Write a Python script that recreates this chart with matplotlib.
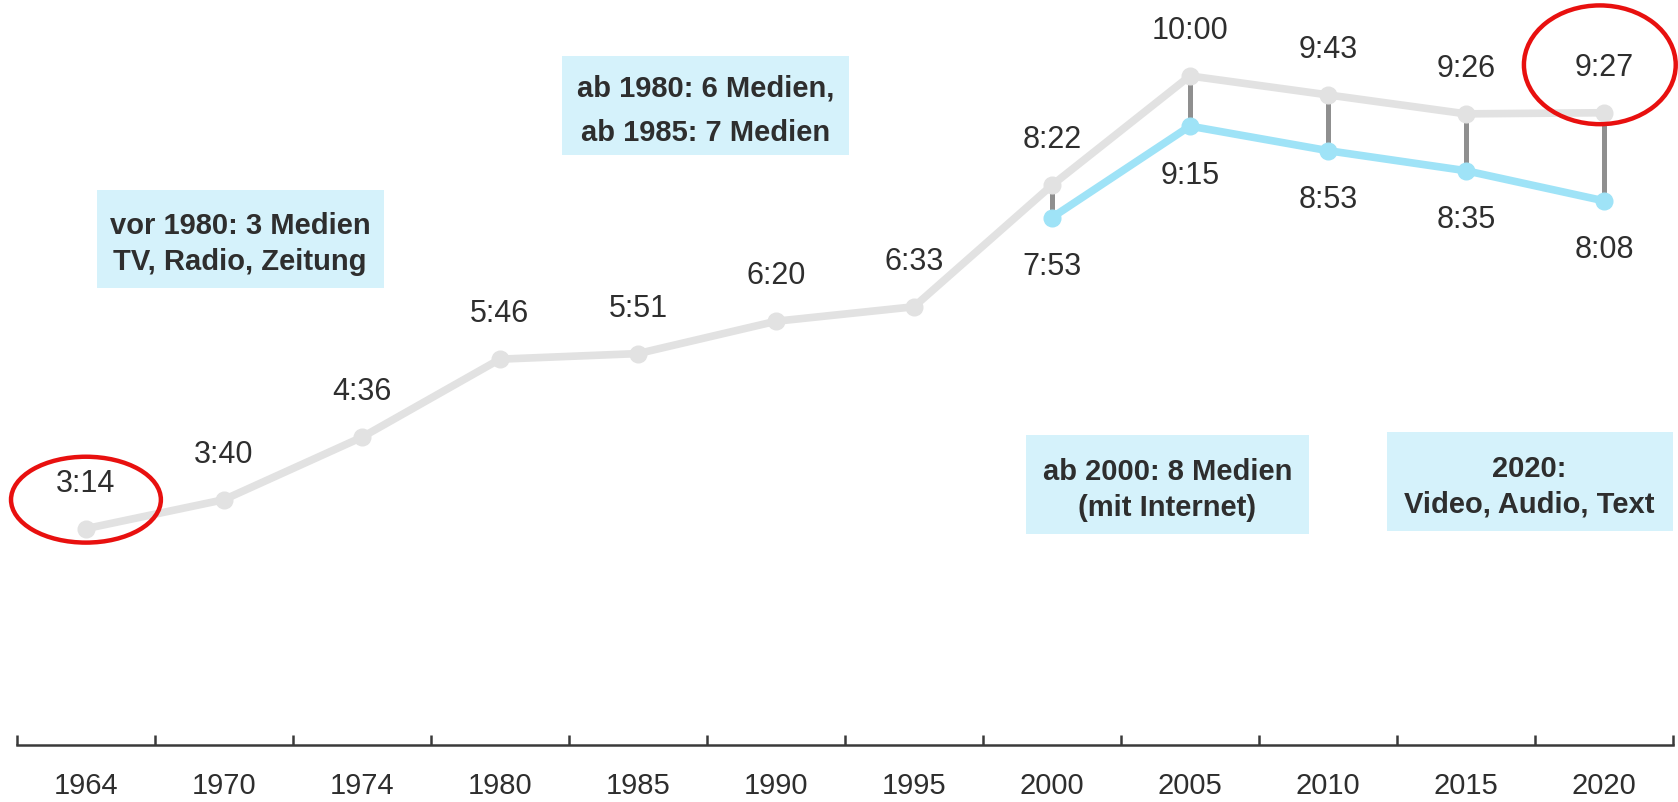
import numpy as np
import matplotlib
matplotlib.use("Agg")
import matplotlib.pyplot as plt
from matplotlib import font_manager
from matplotlib.patches import Rectangle, Ellipse

years = ['1964', '1970', '1974', '1980', '1985', '1990', '1995',
         '2000', '2005', '2010', '2015', '2020']
# Mediennutzung gesamt (h:mm)
total_labels = ['3:14', '3:40', '4:36', '5:46', '5:51', '6:20', '6:33',
                '8:22', '10:00', '9:43', '9:26', '9:27']
# ohne Internet, ab 2000
net_years = ['2000', '2005', '2010', '2015', '2020']
net_labels = ['7:53', '9:15', '8:53', '8:35', '8:08']

notes = ['vor 1980: 3 Medien\nTV, Radio, Zeitung',
         'ab 1980: 6 Medien,\nab 1985: 7 Medien',
         'ab 2000: 8 Medien\n(mit Internet)',
         '2020:\nVideo, Audio, Text']


def to_min(s):
    h, m = s.split(':')
    return int(h) * 60 + int(m)


total = np.array([to_min(s) for s in total_labels])
net = np.array([to_min(s) for s in net_labels])
x = np.arange(len(years))
xn = np.array([years.index(y) for y in net_years])

names = {f.name for f in font_manager.fontManager.ttflist}
fam = 'Liberation Sans Narrow' if 'Liberation Sans Narrow' in names else 'Liberation Sans'
plt.rcParams['font.family'] = [fam, 'DejaVu Sans']

TXT = '#2e2e2e'
GRAY = '#e2e2e2'
BLUE = '#9fe3f7'
BOX = '#d5f2fb'

fig = plt.figure(figsize=(16.78, 8.03), dpi=100)
ax = fig.add_axes([0.0101, 0.071, 0.9869, 0.929])
ax.set_xlim(-0.5, 11.5)
ax.set_ylim(0, 669)

# connectors between the two series
ax.vlines(xn, net, total[xn], color='#8f8f8f', lw=3.6, zorder=2)
ax.plot(x, total, color=GRAY, lw=5.5, marker='o', ms=12, zorder=3)
ax.plot(xn, net, color=BLUE, lw=5.5, marker='o', ms=12, zorder=4)

for xi, v, lab in zip(x, total, total_labels):
    ax.annotate(lab, (xi, v), xytext=(0, 33), textcoords='offset points',
                ha='center', va='center', fontsize=22, color=TXT)
for xi, v, lab in zip(xn, net, net_labels):
    ax.annotate(lab, (xi, v), xytext=(0, -35), textcoords='offset points',
                ha='center', va='center', fontsize=22, color=TXT)

# info boxes (x0, x1, y0, y1 in data units)
boxes = [(0.078, 2.157, 410, 498), (3.452, 5.531, 529, 618),
         (6.811, 8.860, 189, 278), (9.426, 11.497, 192, 281)]
spacing = [1.35, 1.75, 1.4, 1.3]
for (x0, x1, y0, y1), note, ls in zip(boxes, notes, spacing):
    ax.add_patch(Rectangle((x0, y0), x1 - x0, y1 - y0, color=BOX, lw=0, zorder=1))
    ax.text((x0 + x1) / 2, (y0 + y1) / 2 - 4, note, ha='center', va='center',
            fontsize=21, fontweight='bold', color=TXT, linespacing=ls, zorder=2)

# red highlight circles
ax.add_patch(Ellipse((0, 220), 1.086, 77, fill=False, ec='#e8100f', lw=3.2,
                     zorder=6, clip_on=False))
ax.add_patch(Ellipse((10.97, 610), 1.10, 106.5, fill=False, ec='#e8100f', lw=3.2,
                     zorder=6, clip_on=False))

for s in ['top', 'right', 'left']:
    ax.spines[s].set_visible(False)
ax.spines['bottom'].set_color('#3a3a3a')
ax.spines['bottom'].set_linewidth(1.8)
ax.set_yticks([])
ax.set_xticks(x)
ax.set_xticklabels(years)
ax.set_xticks(np.arange(-0.5, 12, 1), minor=True)
ax.tick_params(axis='x', which='major', length=0, pad=19, labelsize=21, labelcolor=TXT)
ax.tick_params(axis='x', which='minor', direction='in', length=7, width=1.8,
               color='#3a3a3a')

fig.savefig('out.png', dpi=100)
